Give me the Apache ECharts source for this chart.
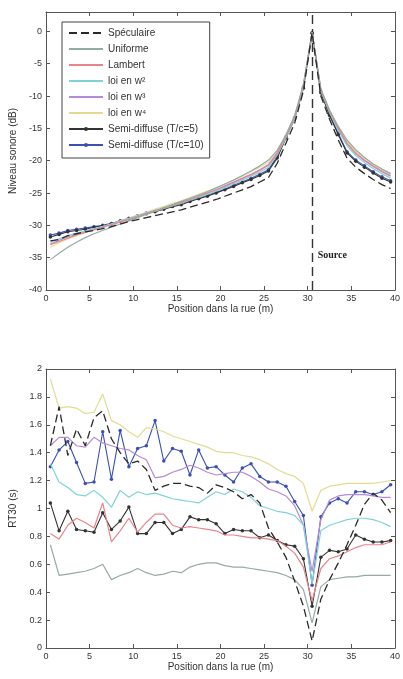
<!DOCTYPE html>
<html><head><meta charset="utf-8">
<script src="https://cdn.jsdelivr.net/npm/echarts@6/dist/echarts.min.js"></script>
<style>html,body{margin:0;padding:0;background:#fff}#c{width:403px;height:679px}</style>
</head><body><div id="c"></div>
<script>
// positions along the street (m)
const xs = [0.5,1.5,2.5,3.5,4.5,5.5,6.5,7.5,8.5,9.5,10.5,11.5,12.5,13.5,14.5,15.5,16.5,17.5,18.5,19.5,20.5,21.5,22.5,23.5,24.5,25.5,26.5,27.5,28.5,29.5,30.5,31.5,32.5,33.5,34.5,35.5,36.5,37.5,38.5,39.5];
const sourcePos = 30.5;
const seriesNames = ['Spéculaire','Uniforme','Lambert','loi en w²','loi en w³','loi en w⁴','Semi-diffuse (T/c=5)','Semi-diffuse (T/c=10)'];

// Top: sound level (dB)
const lvlSpec = [-32.4,-32.2,-31.6,-31.3,-31.0,-30.8,-30.5,-30.2,-29.8,-29.4,-29.1,-28.8,-28.5,-28.2,-27.9,-27.6,-27.2,-26.8,-26.4,-26.0,-25.5,-25.0,-24.5,-24.0,-23.3,-22.6,-20.4,-17.3,-14.2,-9.2,-0.2,-10.0,-13.6,-16.8,-19.6,-21.0,-22.0,-22.9,-23.7,-24.3];
const lvlUnif = [-35.3,-34.3,-33.4,-32.6,-31.9,-31.3,-30.8,-30.3,-29.8,-29.3,-28.8,-28.3,-27.8,-27.3,-26.8,-26.3,-25.8,-25.3,-24.8,-24.2,-23.6,-23.0,-22.3,-21.6,-20.8,-19.9,-18.4,-16.0,-13.0,-8.2,-0.2,-8.9,-12.2,-14.7,-16.8,-18.3,-19.5,-20.5,-21.3,-22.0];
const lvlLamb = [-33.0,-32.5,-32.0,-31.5,-31.1,-30.7,-30.3,-29.9,-29.5,-29.1,-28.7,-28.2,-27.8,-27.4,-26.9,-26.5,-26.0,-25.5,-25.0,-24.5,-24.0,-23.4,-22.8,-22.2,-21.5,-20.7,-18.9,-16.3,-13.3,-8.4,-0.2,-9.0,-12.4,-15.0,-17.3,-18.8,-19.9,-20.8,-21.6,-22.3];
const lvlW2 = [-32.6,-32.1,-31.6,-31.2,-30.9,-30.5,-30.2,-29.8,-29.4,-29.0,-28.6,-28.2,-27.8,-27.4,-27.0,-26.6,-26.1,-25.7,-25.2,-24.7,-24.2,-23.6,-23.0,-22.4,-21.8,-21.0,-19.1,-16.5,-13.5,-8.6,-0.2,-9.2,-12.6,-15.3,-17.7,-19.2,-20.3,-21.2,-22.0,-22.7];
const lvlW3 = [-32.9,-32.3,-31.8,-31.4,-31.0,-30.6,-30.2,-29.8,-29.4,-29.0,-28.6,-28.1,-27.7,-27.3,-26.9,-26.4,-26.0,-25.5,-25.0,-24.5,-23.9,-23.3,-22.7,-22.1,-21.4,-20.6,-18.8,-16.3,-13.3,-8.5,-0.2,-9.1,-12.4,-15.1,-17.4,-18.9,-20.0,-20.9,-21.7,-22.4];
const lvlW4 = [-33.4,-32.7,-32.1,-31.6,-31.1,-30.6,-30.2,-29.8,-29.3,-28.9,-28.4,-28.0,-27.5,-27.1,-26.6,-26.2,-25.7,-25.2,-24.7,-24.2,-23.6,-23.0,-22.4,-21.7,-21.0,-20.2,-18.5,-16.1,-13.1,-8.3,-0.2,-8.9,-12.2,-14.8,-17.0,-18.5,-19.6,-20.5,-21.3,-22.0];
const lvlSemi5 = [-31.8,-31.4,-31.0,-30.8,-30.6,-30.3,-30.1,-29.8,-29.4,-29.0,-28.6,-28.2,-27.9,-27.5,-27.1,-26.8,-26.3,-25.9,-25.5,-25.0,-24.5,-24.0,-23.4,-22.9,-22.3,-21.6,-19.6,-16.5,-13.5,-8.8,-0.3,-9.5,-13.0,-16.0,-18.8,-20.1,-21.0,-21.9,-22.7,-23.3];
const lvlSemi10 = [-31.5,-31.2,-30.8,-30.6,-30.4,-30.2,-30.0,-29.7,-29.3,-28.9,-28.5,-28.1,-27.8,-27.4,-27.0,-26.6,-26.2,-25.8,-25.3,-24.9,-24.4,-23.8,-23.3,-22.7,-22.1,-21.4,-19.3,-16.3,-13.3,-8.6,-0.2,-9.3,-12.8,-15.8,-18.6,-19.9,-20.8,-21.7,-22.5,-23.1];

// Bottom: RT30 (s)
const rtSpec = [1.45,1.73,1.38,1.57,1.45,1.65,1.70,1.50,1.40,1.32,1.34,1.28,1.13,1.16,1.18,1.18,1.16,1.15,1.11,1.17,1.15,1.12,1.07,1.10,1.04,0.86,0.76,0.65,0.48,0.30,0.05,0.35,0.49,0.61,0.74,0.88,1.03,1.11,1.06,0.97];
const rtUnif = [0.74,0.52,0.53,0.54,0.55,0.57,0.60,0.49,0.52,0.54,0.57,0.54,0.52,0.53,0.55,0.54,0.58,0.60,0.61,0.61,0.59,0.58,0.58,0.57,0.56,0.55,0.54,0.52,0.49,0.42,0.18,0.44,0.49,0.50,0.51,0.51,0.52,0.52,0.52,0.52];
const rtLamb = [0.82,0.78,0.88,0.93,0.90,0.86,1.04,0.76,0.84,0.93,0.83,0.90,0.96,0.96,0.88,0.86,0.87,0.86,0.85,0.84,0.81,0.81,0.80,0.79,0.79,0.78,0.77,0.73,0.68,0.58,0.34,0.57,0.64,0.66,0.69,0.72,0.74,0.74,0.74,0.76];
const rtW2 = [1.32,1.19,1.15,1.10,1.09,1.13,1.08,1.01,1.13,1.08,1.12,1.10,1.11,1.09,1.07,1.06,1.05,1.04,1.08,1.12,1.10,1.14,1.12,1.08,1.02,1.00,0.98,0.97,0.95,0.88,0.46,0.84,0.88,0.90,0.92,0.93,0.93,0.92,0.90,0.87];
const rtW3 = [1.45,1.51,1.51,1.45,1.44,1.51,1.47,1.45,1.43,1.42,1.38,1.35,1.22,1.23,1.26,1.28,1.31,1.29,1.26,1.24,1.25,1.26,1.26,1.23,1.19,1.14,1.12,1.09,1.02,0.88,0.55,0.92,1.06,1.09,1.10,1.10,1.10,1.09,1.08,1.08];
const rtW4 = [1.93,1.72,1.73,1.72,1.68,1.69,1.82,1.63,1.60,1.55,1.51,1.58,1.57,1.55,1.52,1.50,1.48,1.46,1.44,1.41,1.40,1.40,1.38,1.37,1.35,1.32,1.28,1.25,1.23,1.18,0.98,1.13,1.16,1.17,1.18,1.18,1.18,1.18,1.19,1.20];
const rtSemi5 = [1.04,0.84,0.98,0.85,0.84,0.83,0.97,0.85,0.91,1.01,0.82,0.82,0.90,0.90,0.82,0.85,0.94,0.92,0.92,0.89,0.82,0.85,0.84,0.84,0.79,0.81,0.77,0.74,0.73,0.64,0.30,0.65,0.70,0.69,0.71,0.81,0.78,0.76,0.76,0.77];
const rtSemi10 = [1.30,1.42,1.48,1.33,1.18,1.19,1.55,1.21,1.56,1.30,1.43,1.45,1.63,1.34,1.43,1.41,1.24,1.42,1.29,1.30,1.24,1.19,1.29,1.32,1.23,1.19,1.19,1.16,1.05,0.95,0.45,0.94,1.04,1.07,1.04,1.12,1.12,1.10,1.12,1.17];

const styles = [
  {color:'#2a2a2a', type:[8,4], width:1.3, marker:false},
  {color:'#94aca2', type:'solid', width:1.2, marker:false},
  {color:'#e8848c', type:'solid', width:1.2, marker:false},
  {color:'#7fd3d6', type:'solid', width:1.2, marker:false},
  {color:'#b58ad6', type:'solid', width:1.2, marker:false},
  {color:'#e2dc92', type:'solid', width:1.2, marker:false},
  {color:'#333333', type:'solid', width:1.1, marker:true},
  {color:'#3b4fb5', type:'solid', width:1.1, marker:true}
];
const topData = [lvlSpec,lvlUnif,lvlLamb,lvlW2,lvlW3,lvlW4,lvlSemi5,lvlSemi10];
const botData = [rtSpec,rtUnif,rtLamb,rtW2,rtW3,rtW4,rtSemi5,rtSemi10];
const pair = arr => xs.map((x,i)=>[x,arr[i]]);

const font = 'Liberation Sans, Arial, sans-serif';
const txt = {color:'#333', fontSize:9, fontFamily:font};
const nameTxt = {color:'#333', fontSize:10, fontFamily:font};
function xAx(grid, pos, show){
  return {type:'value', gridIndex:grid, position:pos, min:0, max:40, interval:5,
    axisLine:{show:true, onZero:false, lineStyle:{color:'#555', width:1}},
    axisTick:{show:true, inside:true, length:4, lineStyle:{color:'#555'}},
    axisLabel:Object.assign({show:show, margin:4}, txt),
    splitLine:{show:false},
    name: show ? 'Position dans la rue (m)' : '', nameLocation:'middle', nameGap:14,
    nameTextStyle:nameTxt};
}
function yAx(grid, pos, show, min, max, interval, name, gap){
  return {type:'value', gridIndex:grid, position:pos, min:min, max:max, interval:interval,
    axisLine:{show:true, onZero:false, lineStyle:{color:'#555', width:1}},
    axisTick:{show:true, inside:true, length:4, lineStyle:{color:'#555'}},
    axisLabel:Object.assign({show:show, margin:4, showMaxLabel: max===2}, txt),
    splitLine:{show:false},
    name: show ? name : '', nameLocation:'middle', nameGap:gap, nameRotate:90,
    nameTextStyle:nameTxt};
}

const series = [];
seriesNames.forEach((n,i)=>{
  const s = styles[i];
  [0,1].forEach(g=>{
    const item = {
      name:n, type:'line', xAxisIndex:g===0?0:2, yAxisIndex:g===0?0:2,
      data: pair(g===0?topData[i]:botData[i]),
      showSymbol:s.marker, symbol:'circle', symbolSize:3.5,
      itemStyle:{color:s.color}, lineStyle:{color:s.color, type:s.type, width:s.width},
      animation:false, z: 10-i
    };
    if (g===0 && i===0) {
      item.markLine = {symbol:'none', silent:true, animation:false,
        lineStyle:{color:'#333', type:[9,5], width:1.4},
        label:{show:false}, data:[{xAxis:sourcePos}]};
      item.markPoint = {symbol:'circle', symbolSize:0, silent:true, animation:false,
        label:{show:true, position:'right', distance:3, formatter:'Source', color:'#222', fontSize:10, fontWeight:'bold', fontFamily:'Liberation Serif, serif'},
        data:[{coord:[sourcePos+0.3,-34.6]}]};
    }
    series.push(item);
  });
});

const legendData = seriesNames.map((n,i)=> styles[i].marker
  ? {name:n}
  : {name:n, itemStyle:{opacity:0}});

const chart = echarts.init(document.getElementById('c'), null, {renderer:'canvas'});
chart.setOption({
  backgroundColor:'#fff',
  animation:false,
  grid:[
    {left:45, right:4, top:12, height:278},
    {left:45, right:4, top:369, height:279}
  ],
  xAxis:[xAx(0,'bottom',true), xAx(0,'top',false), xAx(1,'bottom',true), xAx(1,'top',false)],
  yAxis:[yAx(0,'left',true,-40,3,5,'Niveau sonore (dB)',28), yAx(0,'right',false,-40,3,5,'',0),
         yAx(1,'left',true,0,2,0.2,'RT30 (s)',28), yAx(1,'right',false,0,2,0.2,'',0)],
  legend:{
    show:true, orient:'vertical', left:62, top:22, data:legendData,
    itemWidth:34, itemHeight:5, itemGap:6,
    backgroundColor:'#fff', borderColor:'#444', borderWidth:1, padding:[6,6,8,6],
    textStyle:{color:'#333', fontSize:10, fontFamily:font}, selectedMode:false
  },
  series:series
});
</script></body></html>
